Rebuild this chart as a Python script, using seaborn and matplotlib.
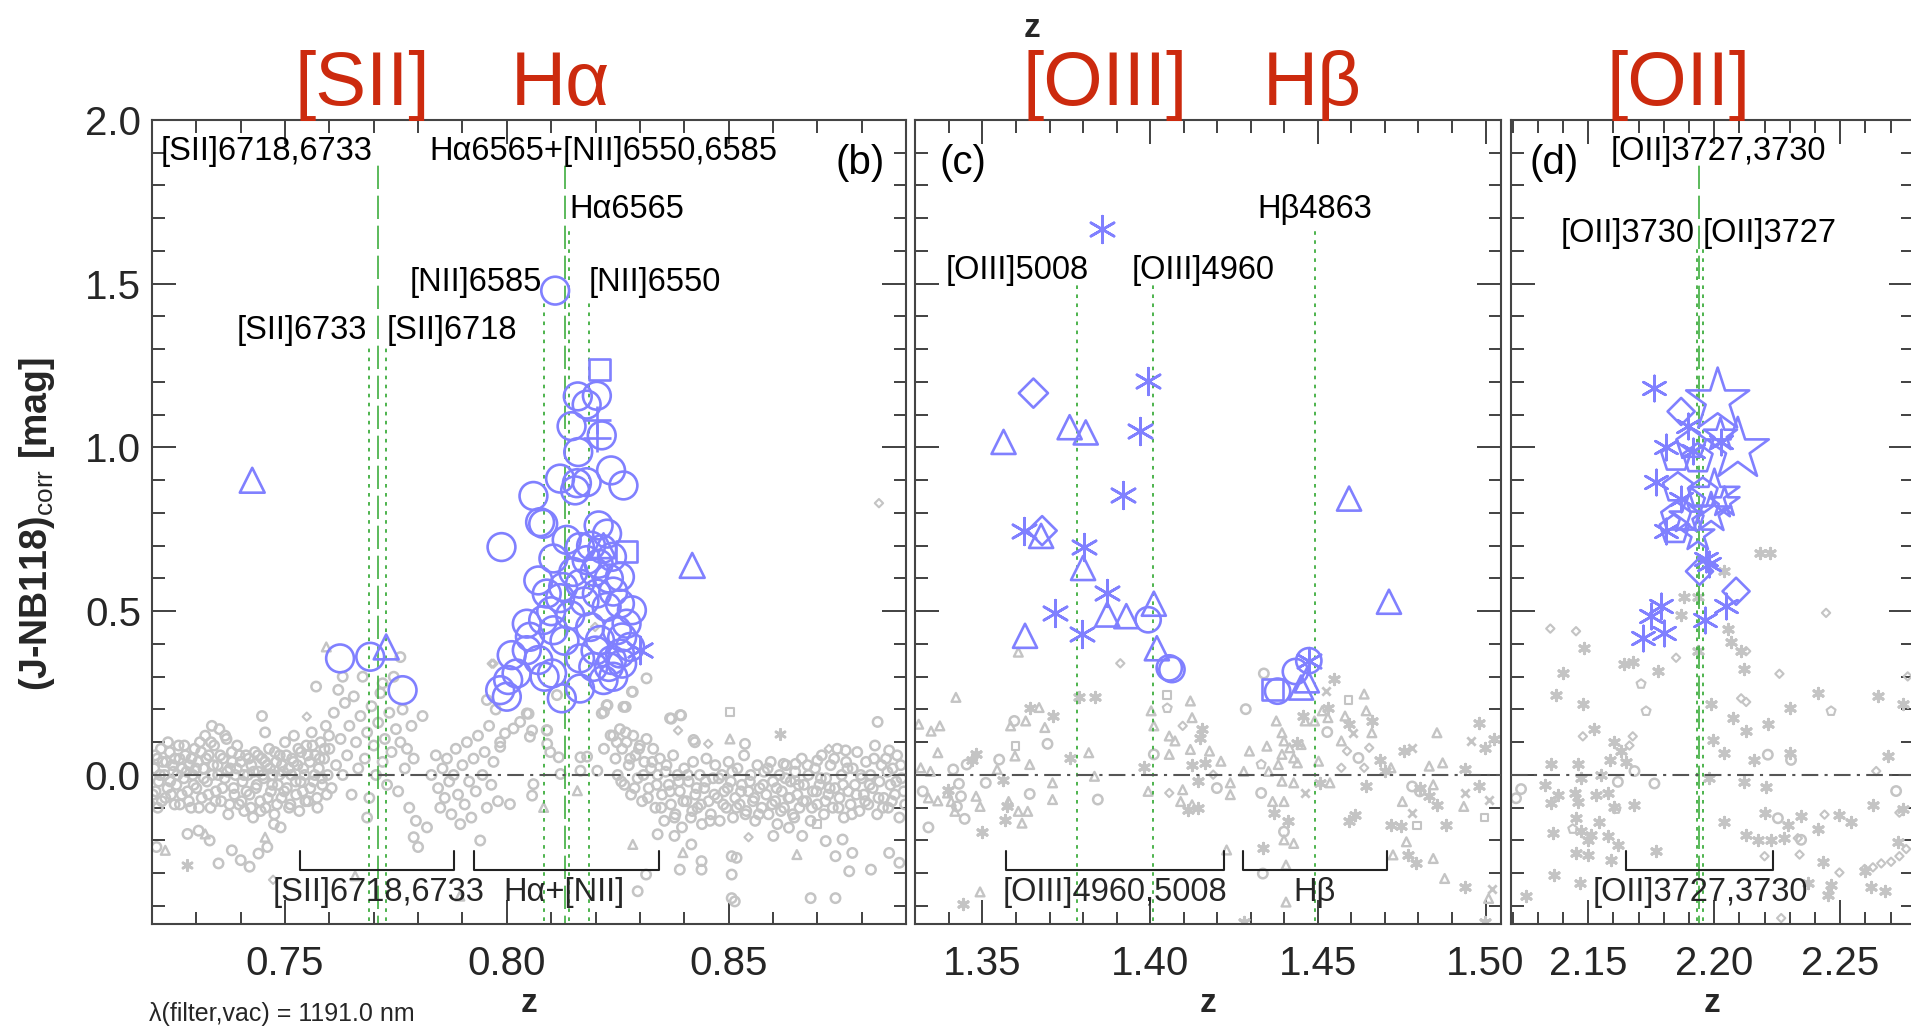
import numpy as np
import pandas as pd
import matplotlib
matplotlib.use('Agg')
import matplotlib.pyplot as plt
from matplotlib.ticker import MultipleLocator, FormatStrFormatter
import seaborn as sns

sns.set_theme(style='ticks')
plt.rcParams['font.family'] = ['Liberation Sans', 'DejaVu Sans']
plt.rcParams['mathtext.fontset'] = 'custom'
plt.rcParams['mathtext.rm'] = 'Liberation Sans'

#%% data: (z, colour excess) pairs
# panel (b) - gray comparison sample
b_gray_circ = [
(0.7205,0.02),(0.7208,-0.05),(0.7212,0.05),(0.7215,-0.02),(0.7220,0.08),(0.7222,-0.08),(0.7228,0.0),(0.7232,0.04),
(0.7235,-0.04),(0.7240,0.07),(0.7243,-0.06),(0.7248,0.01),(0.7252,0.05),(0.7255,-0.03),(0.7260,0.09),(0.7263,-0.09),
(0.7268,0.02),(0.7272,-0.01),(0.7275,0.06),(0.7280,-0.05),(0.7284,0.03),(0.7288,-0.1),(0.7292,0.0),(0.7296,0.08),
(0.7300,-0.04),(0.7304,0.04),(0.7308,0.1),(0.7312,-0.07),(0.7316,0.02),(0.7320,0.12),(0.7324,-0.02),(0.7328,0.06),
(0.7332,-0.1),(0.7336,0.0),(0.7340,0.09),(0.7344,-0.05),(0.7348,0.03),(0.7352,0.14),(0.7356,-0.08),(0.7360,0.05),
(0.7364,-0.01),(0.7368,0.11),(0.7372,-0.12),(0.7376,0.02),(0.7380,0.07),(0.7384,-0.04),(0.7388,0.0),(0.7392,0.09),
(0.7396,-0.09),(0.7400,0.04),(0.7404,-0.02),(0.7408,-0.11),(0.7412,0.06),(0.7416,0.0),(0.7420,-0.06),(0.7424,0.03),
(0.7428,-0.13),(0.7432,0.07),(0.7436,-0.03),(0.7440,0.01),(0.7444,-0.08),(0.7448,0.05),(0.7452,-0.01),(0.7456,-0.1),
(0.7460,0.03),(0.7464,0.08),(0.7468,-0.05),(0.7472,0.0),(0.7476,-0.12),(0.7480,0.04),(0.7484,-0.03),(0.7488,0.06),
(0.7492,-0.07),(0.7496,0.01),(0.7500,0.1),(0.7504,-0.04),(0.7508,0.02),(0.7512,-0.09),(0.7516,0.05),(0.7520,0.12),
(0.7524,-0.02),(0.7528,0.03),(0.7532,-0.11),(0.7536,0.07),(0.7540,-0.05),(0.7544,0.0),(0.7548,0.09),(0.7552,-0.08),
(0.7556,0.04),(0.7560,0.13),(0.7564,-0.02),(0.7568,0.06),(0.7572,-0.07),(0.7576,0.02),(0.7580,0.1),(0.7584,-0.03),
(0.7588,0.05),(0.7592,0.15),(0.7596,0.0),
(0.7202,-0.06),(0.7207,0.06),(0.7213,-0.1),(0.7218,0.0),(0.7224,0.04),(0.7230,-0.07),(0.7236,0.1),(0.7241,-0.02),
(0.7246,0.03),(0.7251,-0.09),(0.7257,0.0),(0.7262,0.05),(0.7267,-0.06),(0.7273,0.09),(0.7278,0.01),(0.7283,-0.08),
(0.7289,0.05),(0.7294,-0.03),(0.7299,0.02),(0.7306,-0.1),(0.7311,0.07),(0.7317,-0.01),(0.7322,0.05),(0.7327,-0.06),
(0.7333,0.1),(0.7338,0.03),(0.7343,-0.08),(0.7349,0.0),(0.7354,0.06),(0.7359,-0.04),(0.7365,0.12),(0.7370,0.01),
(0.7375,-0.09),(0.7381,0.04),(0.7386,-0.06),(0.7391,0.02),(0.7397,0.06),(0.7402,-0.08),(0.7407,0.0),(0.7413,-0.05),
(0.7418,0.05),(0.7423,-0.1),(0.7429,0.01),(0.7434,-0.04),(0.7439,0.06),(0.7445,-0.11),(0.7450,0.0),(0.7455,0.04),
(0.7461,-0.07),(0.7466,0.02),(0.7471,-0.03),(0.7477,0.07),(0.7482,-0.09),(0.7487,0.0),(0.7493,0.03),(0.7498,-0.05),
(0.7503,0.06),(0.7509,-0.1),(0.7514,0.0),(0.7519,0.04),(0.7525,-0.06),(0.7530,0.08),(0.7535,-0.02),(0.7541,0.02),
(0.7546,-0.08),(0.7551,0.06),(0.7557,-0.04),(0.7562,0.09),(0.7567,0.0),(0.7573,-0.1),(0.7578,0.05),(0.7583,-0.01),
(0.7589,0.08),(0.7594,-0.06),(0.7599,0.12),
(0.7600,0.08),(0.7605,-0.04),(0.7610,0.19),(0.7615,0.03),(0.7620,0.26),(0.7625,0.11),(0.7630,0.0),(0.7635,0.22),
(0.7640,0.06),(0.7645,0.15),(0.7650,-0.06),(0.7655,0.24),(0.7660,0.1),(0.7665,0.02),(0.7670,0.18),(0.7675,0.3),
(0.7680,0.05),(0.7685,0.13),(0.7690,-0.07),(0.7695,0.21),(0.7700,0.09),(0.7705,0.0),(0.7710,0.16),(0.7715,0.25),
(0.7720,0.04),(0.7725,0.11),(0.7730,-0.03),(0.7735,0.19),(0.7740,0.07),(0.7745,0.3),(0.7750,0.14),(0.7755,-0.05),
(0.7760,0.1),(0.7765,0.2),(0.7770,0.02),(0.7775,0.08),(0.7780,-0.1),(0.7785,0.15),(0.7790,0.05),(0.7795,-0.14),
(0.7210,-0.22),(0.7280,-0.18),(0.7305,-0.17),(0.7330,-0.2),(0.7350,-0.27),(0.7380,-0.23),(0.7400,-0.26),(0.7420,-0.28),
(0.7440,-0.24),(0.7460,-0.22),(0.7475,-0.15),(0.7490,-0.16),(0.7448,0.18),(0.7455,0.13),(0.7335,0.15),(0.7570,0.27),
(0.7630,0.3),(0.7685,-0.13),(0.7720,0.28),(0.7760,0.36),(0.7790,-0.19),(0.7800,-0.22),(0.7810,0.18),(0.7820,-0.16),
(0.7830,0.0),
(0.7840,0.06),(0.7845,-0.04),(0.7850,-0.1),(0.7855,0.02),(0.7860,-0.07),(0.7865,0.05),(0.7870,-0.02),(0.7875,-0.12),
(0.7880,0.0),(0.7885,0.08),(0.7890,-0.06),(0.7895,-0.15),(0.7900,0.03),(0.7905,-0.09),(0.7910,0.1),(0.7915,-0.02),
(0.7920,-0.13),(0.7925,0.05),(0.7930,-0.05),(0.7935,0.12),(0.7940,-0.2),(0.7945,0.0),(0.7950,0.07),(0.7955,-0.1),
(0.7960,0.15),(0.7965,-0.03),(0.7970,0.04),(0.7975,0.2),(0.7980,-0.08),(0.7985,0.1),
(0.8049,0.187),(0.8030,0.162),(0.8057,0.136),(0.8091,0.136),(0.8091,0.095),(0.8098,0.070),(0.8117,0.054),(0.8166,0.054),
(0.8181,0.056),(0.8166,0.013),(0.8121,0.003),(0.8060,-0.028),(0.8007,-0.089),(0.8057,-0.063),(0.8204,0.013),(0.8219,0.080),
(0.8234,0.121),(0.8268,0.208),(0.8284,0.254),(0.8219,0.192),(0.8227,0.213),(0.8371,0.172),(0.8393,0.182),(0.8424,0.100),
(0.8537,0.095),(0.8836,0.162),(0.8651,0.034),(0.8624,0.034),(0.8700,0.044),(0.8764,0.075),(0.8862,0.075),
(0.8340,-0.181),(0.8378,-0.186),(0.8416,-0.212),(0.8390,-0.289),(0.8439,-0.263),(0.8439,-0.289),(0.8507,-0.248),(0.8518,-0.253),
(0.8507,-0.304),(0.8507,-0.376),(0.8514,-0.386),(0.8314,-0.304),(0.8295,-0.355),(0.8685,-0.376),(0.8741,-0.376),(0.8719,-0.202),
(0.8757,-0.197),(0.8741,-0.248),(0.8779,-0.238),(0.8772,-0.294),(0.8821,-0.289),(0.8862,-0.238),(0.8885,-0.268),(0.8601,-0.186),
(0.8636,-0.161),(0.8666,-0.186),
(0.8315,0.295),(0.8282,0.254),(0.8263,0.208),(0.8225,0.213),(0.8214,0.188),(0.8368,0.173),(0.8391,0.183),(0.8045,0.188),
(0.8090,0.137),(0.8113,0.244),(0.8015,0.142),(0.7996,0.127),(0.7985,0.086),(0.7955,0.229),(0.8052,0.117),(0.8421,0.107),
(0.8240,0.12),(0.8245,0.05),(0.8250,0.0),(0.8255,0.14),(0.8260,0.08),(0.8265,-0.03),(0.8270,0.1),(0.8275,0.03),
(0.8280,-0.06),(0.8285,0.12),(0.8290,0.06),(0.8295,-0.01),(0.8300,0.09),(0.8305,-0.08),(0.8310,0.04),(0.8315,0.11),
(0.8320,-0.04),(0.8325,0.02),(0.8330,0.08),(0.8335,-0.1),(0.8340,0.0),(0.8345,0.05),(0.8350,-0.06),(0.8355,-0.14),
(0.8360,0.03),(0.8365,-0.03),(0.8370,-0.09),(0.8375,0.06),(0.8380,-0.12),(0.8385,0.0),(0.8390,-0.05),(0.8395,-0.16),
(0.8400,0.02),(0.8405,-0.08),(0.8410,-0.02),(0.8415,-0.13),(0.8420,0.04),(0.8425,-0.06),(0.8430,-0.1),(0.8435,0.0),
(0.8440,-0.15),(0.8445,-0.04),(0.8450,0.05),(0.8455,-0.08),(0.8460,-0.12),(0.8465,-0.01),(0.8470,0.03),(0.8475,-0.07),
(0.8480,-0.14),(0.8485,0.0),(0.8490,-0.05),(0.8495,-0.1),(0.8500,0.04),(0.8505,-0.02),(0.8510,-0.13),(0.8515,-0.07),
(0.8520,0.02),(0.8525,-0.09),(0.8530,-0.03),(0.8535,0.06),(0.8540,-0.11),(0.8545,-0.05),(0.8550,0.0),(0.8555,-0.08),
(0.8560,-0.14),(0.8565,0.03),(0.8570,-0.04),(0.8575,-0.1),(0.8580,0.01),(0.8585,-0.06),(0.8590,-0.12),(0.8595,0.04),
(0.8600,-0.02),(0.8605,-0.08),(0.8610,-0.15),(0.8615,0.0),(0.8620,-0.05),(0.8625,-0.1),(0.8630,0.03),(0.8635,-0.07),
(0.8640,-0.02),(0.8645,-0.12),(0.8650,0.01),(0.8655,-0.06),(0.8660,-0.1),(0.8665,0.05),(0.8670,-0.03),(0.8675,-0.08),
(0.8680,0.0),(0.8685,-0.14),(0.8690,-0.05),(0.8695,0.02),(0.8700,-0.09),(0.8705,-0.03),(0.8710,0.06),(0.8715,-0.12),
(0.8720,-0.01),(0.8725,-0.06),(0.8730,0.03),(0.8735,-0.1),(0.8740,-0.04),(0.8745,0.08),(0.8750,-0.07),(0.8755,0.0),
(0.8760,-0.13),(0.8765,0.04),(0.8770,-0.05),(0.8775,-0.09),(0.8780,0.02),(0.8785,-0.03),(0.8790,0.07),(0.8795,-0.11),
(0.8800,-0.01),(0.8805,-0.06),(0.8810,0.04),(0.8815,-0.09),(0.8820,0.0),(0.8825,-0.04),(0.8830,0.09),(0.8835,-0.12),
(0.8840,-0.02),(0.8845,0.03),(0.8850,-0.07),(0.8855,0.05),(0.8860,-0.1),(0.8865,-0.03),(0.8870,0.02),(0.8875,-0.06),
(0.8880,0.06),(0.8885,-0.13),(0.8890,-0.01),(0.8895,-0.05),
(0.8248,0.1),(0.8258,-0.02),(0.8268,0.13),(0.8278,0.05),(0.8288,-0.04),(0.8298,0.08),(0.8308,0.0),(0.8318,-0.07),
(0.8328,0.04),(0.8338,-0.03),(0.8348,-0.1),(0.8358,0.01),(0.8368,-0.05),(0.8378,-0.13),(0.8388,-0.02),(0.8398,-0.08),
(0.8408,0.0),(0.8418,-0.11),(0.8428,-0.04),(0.8438,-0.09),(0.8448,-0.02),(0.8458,-0.14),(0.8468,-0.06),(0.8478,-0.01),
(0.8488,-0.09),(0.8498,-0.04),(0.8508,0.01),(0.8518,-0.1),(0.8528,-0.05),(0.8538,-0.12),(0.8548,-0.02),(0.8558,-0.07),
(0.8568,-0.12),(0.8578,-0.03),(0.8588,0.02),(0.8598,-0.09),(0.8608,-0.04),(0.8618,-0.11),(0.8628,-0.01),(0.8638,-0.07),
(0.8648,-0.13),(0.8658,-0.03),(0.8668,-0.08),(0.8678,0.03),(0.8688,-0.1),(0.8698,-0.05),(0.8708,-0.01),(0.8718,-0.08),
(0.8728,-0.04),(0.8738,0.05),(0.8748,-0.1),(0.8758,-0.03),(0.8768,0.02),(0.8778,-0.12),(0.8788,-0.06),(0.8798,0.0),
(0.8808,-0.08),(0.8818,-0.03),(0.8828,0.05),(0.8838,-0.07),(0.8848,-0.1),(0.8858,0.01),(0.8868,-0.08),(0.8878,-0.02),
(0.8888,0.03),(0.8898,-0.09)]
b_gray_tri = [(0.7593,0.391),(0.7658,-0.308),(0.7894,-0.37),(0.7320,-0.18),(0.7230,-0.23),(0.7455,-0.19),
              (0.8503,0.11),(0.8397,-0.237),(0.8654,-0.243),(0.8284,-0.212),(0.8083,-0.099),(0.8159,-0.048)]
b_gray_dia = [(0.7197,-0.086),(0.7549,0.178),(0.7966,0.34),(0.7473,-0.32),(0.8839,0.83),(0.8386,0.136),
              (0.8454,0.095),(0.8726,0.08),(0.8545,-0.19),(0.8199,0.452),(0.7970,0.340)]
b_gray_sq = [(0.8503,0.192),(0.8650,-0.017),(0.8699,-0.15)]
b_gray_ast = [(0.7280,-0.275),(0.8617,0.126)]

# panel (b) - NB118 emitters
b_blue_circ = [
(0.8109,1.479),(0.7624,0.356),(0.7692,0.361),(0.7765,0.259),
(0.8160,1.156),(0.8203,1.158),(0.8180,1.131),(0.8146,1.065),(0.8214,1.037),(0.8161,0.986),
(0.8235,0.930),(0.8263,0.884),(0.8120,0.905),(0.8158,0.891),(0.8180,0.894),(0.8154,0.869),
(0.8060,0.852),(0.8075,0.772),(0.8082,0.767),(0.7988,0.696),(0.8135,0.718),(0.8207,0.762),
(0.8226,0.737),(0.8105,0.661),(0.8165,0.696),(0.8180,0.656),(0.8207,0.645),(0.8237,0.666),
(0.8255,0.605),(0.8071,0.594),(0.8090,0.554),(0.8127,0.574),(0.8165,0.584),(0.8203,0.554),
(0.8225,0.513),(0.8255,0.523),(0.8282,0.503),(0.8143,0.488),(0.8045,0.462),(0.8082,0.473),
(0.8105,0.442),(0.8052,0.422),(0.8188,0.452),(0.8210,0.412),(0.8248,0.442),(0.8270,0.462),
(0.8011,0.366),(0.8045,0.381),(0.8071,0.351),(0.8102,0.310),(0.8165,0.356),(0.8195,0.330),
(0.8237,0.351),(0.8255,0.371),(0.8278,0.391),(0.8003,0.290),(0.8022,0.310),(0.7985,0.259),
(0.8000,0.239),(0.8124,0.234),(0.8165,0.264),(0.8218,0.290),(0.8240,0.300),
(0.8190,0.700),(0.8215,0.690),(0.8198,0.620),(0.8230,0.600),(0.8175,0.530),(0.8240,0.560),
(0.8150,0.620),(0.8120,0.540),(0.8260,0.420),(0.8200,0.380),(0.8230,0.330),(0.8260,0.340),
(0.8100,0.500),(0.8130,0.410),(0.8085,0.300)]
b_blue_tri = [(0.7426,0.900),(0.7728,0.391),(0.8418,0.640),(0.8218,0.700)]
b_blue_sq = [(0.8210,1.237),(0.8270,0.681)]
b_blue_plus = [(0.8203,1.085),(0.8203,1.030)]
b_blue_ast = [(0.8300,0.381)]

# panel (c) - gray
c_gray_tri = [
(1.3607,0.375),(1.3421,0.237),(1.3669,0.206),(1.3629,0.165),(1.3584,0.150),(1.3686,0.145),(1.3310,0.155),(1.3373,0.150),
(1.3347,0.134),(1.3367,0.068),(1.3597,0.058),(1.3316,0.022),(1.3345,0.011),(1.3367,-0.079),(1.3339,-0.070),(1.3407,-0.081),
(1.3396,-0.055),(1.3481,-0.065),(1.3493,-0.096),(1.3418,-0.111),(1.3578,-0.081),(1.3607,-0.111),(1.3618,-0.147),(1.3635,-0.111),
(1.3709,-0.024),(1.3709,-0.075),(1.3544,0.017),(1.3641,0.032),(1.3817,0.068),(1.3834,-0.004),(1.4003,0.196),(1.4011,0.150),
(1.4120,0.226),(1.4125,0.175),(1.4057,0.119),(1.4074,0.104),(1.4120,0.078),(1.4057,0.063),(1.4177,0.073),(1.4211,0.042),
(1.3994,-0.050),(1.4097,-0.045),(1.4091,-0.081),(1.4125,-0.091),(1.4239,-0.024),(1.4239,-0.060),(1.4228,-0.229),(1.4296,0.073),
(1.4348,0.088),(1.4376,0.165),(1.4393,0.129),(1.4399,0.104),(1.4416,0.083),(1.4450,0.093),(1.4393,0.063),(1.4428,0.052),
(1.4382,0.032),(1.4439,0.037),(1.4462,0.165),(1.4490,0.165),(1.4513,0.196),(1.4530,0.175),(1.4570,0.104),(1.4581,0.180),
(1.4638,0.247),(1.4644,0.196),(1.4661,0.129),(1.4279,0.011),(1.4353,0.011),(1.4393,-0.019),(1.4428,-0.024),(1.4365,-0.081),
(1.4399,-0.081),(1.4399,-0.198),(1.4428,-0.209),(1.4405,-0.275),(1.4502,0.042),(1.4536,-0.024),(1.4718,0.022),(1.4724,-0.244),
(1.4752,-0.081),(1.4764,-0.204),(1.4844,-0.255),(1.4855,0.129),(1.4878,-0.316),(1.4832,0.027),(1.4872,0.037),(1.4844,-0.030),
(1.4935,-0.096),(1.3493,-0.357),(1.4405,-0.388),(1.5009,-0.377)]
c_gray_ast = [
(1.3787,0.237),(1.3837,0.237),(1.3641,0.206),(1.3711,0.180),(1.3481,0.063),(1.3470,0.047),(1.3561,-0.014),(1.3567,-0.137),
(1.3498,-0.173),(1.3572,-0.096),(1.3396,-0.045),(1.3761,0.052),(1.4154,0.139),(1.4148,0.114),(1.4125,0.032),(1.4165,0.037),
(1.4142,-0.019),(1.4114,-0.106),(1.4142,-0.101),(1.3983,0.025),(1.4547,0.293),(1.4530,0.206),(1.4456,0.180),(1.4439,0.099),
(1.4593,0.155),(1.4661,0.165),(1.4684,0.047),(1.4507,-0.024),(1.4644,-0.035),(1.4758,0.073),(1.4832,-0.065),(1.4718,-0.152),
(1.4747,-0.157),(1.4769,-0.244),(1.4792,-0.270),(1.4883,-0.152),(1.4593,-0.142),(1.4610,-0.122),(1.4370,-0.116),(1.4410,-0.142),
(1.4336,-0.224),(1.4980,0.160),(1.4997,0.083),(1.5026,0.109),(1.4940,0.017),(1.4980,-0.035),(1.4940,-0.342),(1.4997,-0.449),
(1.3441,-0.393),(1.4279,-0.449),(1.4701,0.011),(1.4804,-0.040),(1.4855,-0.091)]
c_gray_x = [(1.4604,0.129),(1.4781,0.083),(1.4781,-0.116),(1.4940,-0.055),(1.5009,-0.075),(1.5020,-0.347),(1.4462,-0.055),
            (1.4524,0.257),(1.4958,0.104)]
c_gray_circ = [
(1.3595,0.165),(1.3694,0.095),(1.3550,0.047),(1.3453,0.032),(1.3413,0.017),(1.3430,-0.027),(1.3322,-0.050),(1.3436,-0.065),
(1.3447,-0.134),(1.3339,-0.160),(1.3424,-0.096),(1.3641,-0.058),(1.3844,-0.075),(1.3510,-0.024),(1.4011,0.063),(1.4199,-0.040),
(1.4339,0.310),(1.4285,0.201),(1.4528,0.131),(1.4331,-0.055),(1.4399,-0.173),(1.4336,-0.301),(1.4621,0.052),(1.4781,-0.035),
(1.4804,-0.050)]
c_gray_sq = [(1.3599,0.088),(1.4051,0.245),(1.4591,0.229),(1.4796,-0.154),(1.4997,-0.130)]
c_gray_dia = [(1.3911,0.341),(1.4057,-0.055),(1.4188,0.001),(1.4097,0.150),(1.4587,0.073),(1.4570,0.022),(1.4653,0.083),(1.4638,0.022)]
c_gray_pent = [(1.4051,0.204),(1.4331,0.032)]

# panel (c) - emitters
c_blue_ast = [(1.3857,1.667),(1.3994,1.204),(1.3971,1.051),(1.3920,0.855),(1.3624,0.746),(1.3804,0.697),(1.3871,0.556),
              (1.3715,0.496),(1.3797,0.431),(1.4473,0.349)]
c_blue_tri = [(1.3760,1.062),(1.3808,1.046),(1.3563,1.017),(1.4593,0.844),(1.3675,0.730),(1.3800,0.632),(1.4712,0.529),
              (1.3872,0.490),(1.3929,0.485),(1.4011,0.523),(1.3627,0.425),(1.4020,0.387),(1.4467,0.289),(1.4450,0.267)]
c_blue_dia = [(1.3652,1.166),(1.3678,0.746)]
c_blue_circ = [(1.3994,0.474),(1.4057,0.327),(1.4065,0.322),(1.4473,0.349),(1.4433,0.316),(1.4380,0.256)]
c_blue_sq = [(1.4365,0.262)]

# panel (d) - gray
d_gray_ast = [
(2.2180,0.678),(2.2220,0.678),(2.2041,0.622),(2.1882,0.545),(2.1935,0.545),(2.1869,0.489),(2.2054,0.445),(2.2067,0.406),
(2.1935,0.378),(2.1776,0.317),(2.1644,0.340),(2.1677,0.345),(2.1399,0.312),(2.1373,0.245),(2.1479,0.218),(2.1485,0.389),
(2.1988,0.218),(2.2074,0.173),(2.2213,0.157),(2.2127,0.134),(2.1995,0.107),(2.2041,0.068),(2.2160,0.046),(2.2299,0.068),
(2.2299,0.206),(2.2411,0.251),(2.2649,0.240),(2.2749,0.218),(2.2689,0.057),(2.2120,0.323),(2.2107,0.378),(2.1525,0.140),
(2.1604,0.101),(2.1631,0.073),(2.1585,0.046),(2.1651,0.040),(2.1353,0.035),(2.1459,0.035),(2.1552,0.001),(2.1472,-0.010),
(2.1327,-0.032),(2.1380,-0.060),(2.1446,-0.054),(2.1532,-0.060),(2.1578,-0.054),(2.1353,-0.087),(2.1459,-0.082),(2.1684,-0.093),
(2.1604,-0.098),(2.1452,-0.132),(2.1545,-0.143),(2.1360,-0.176),(2.1472,-0.170),(2.1512,-0.182),(2.1499,-0.198),(2.1578,-0.187),
(2.1618,-0.215),(2.1452,-0.237),(2.1499,-0.243),(2.1591,-0.259),(2.1770,-0.232),(2.1366,-0.304),(2.1254,-0.370),(2.1466,-0.331),
(2.2120,-0.021),(2.2206,-0.038),(2.2041,-0.143),(2.2127,-0.182),(2.2173,-0.198),(2.2226,-0.198),(2.2279,-0.193),(2.2292,-0.154),
(2.2345,-0.126),(2.2411,-0.165),(2.2431,-0.265),(2.2464,-0.337),(2.2497,-0.121),(2.2544,-0.143),(2.2630,-0.093),(2.2597,-0.292),
(2.2623,-0.342),(2.2729,-0.204),(2.2749,-0.104),(2.1981,-0.010),(2.2200,-0.115),(2.2372,-0.331),(2.2451,-0.365),(2.2676,-0.354)]
d_gray_dia = [
(2.1350,0.447),(2.1452,0.439),(2.1849,0.358),(2.2127,0.378),(2.2259,0.309),(2.2444,0.495),(2.2768,0.301),(2.2107,0.234),
(2.2127,0.223),(2.1677,0.118),(2.1479,0.118),(2.2643,0.012),(2.2735,-0.115),(2.2438,-0.121),(2.2332,-0.193),(2.2339,-0.243),
(2.2497,-0.298),(2.2597,-0.287),(2.2630,-0.282),(2.2663,-0.270),(2.2702,-0.265),(2.2735,-0.248),(2.2762,-0.226),(2.2200,-0.248),
(2.2266,-0.437),(2.1664,0.090)]
d_gray_pent = [(2.1710,0.278),(2.1730,0.195),(2.2464,0.195),(2.1439,-0.165),(2.1611,-0.104)]
d_gray_circ = [(2.2213,0.062),(2.2305,0.046),(2.1763,-0.026),(2.1684,0.012),(2.1618,-0.021),(2.1214,-0.071),(2.1234,-0.043),
               (2.2722,-0.049),(2.2253,-0.132),(2.2345,-0.198)]

# panel (d) - emitters
d_blue_ast = [(2.1763,1.182),(2.1896,1.066),(2.1809,1.000),(2.1915,0.988),(2.2028,1.016),(2.1770,0.894),(2.1869,0.844),
              (2.1809,0.744),(2.1968,0.661),(2.1981,0.644),(2.2048,0.517),(2.1962,0.473),(2.1790,0.517),(2.1750,0.484),
              (2.1803,0.434),(2.1717,0.417)]
d_blue_dia = [(2.1869,1.110),(2.1942,0.622),(2.2087,0.561)]
d_blue_pent = [(2.1849,0.971),(2.1909,1.010),(2.1856,0.877),(2.1955,0.861),(2.1843,0.750),(2.1849,0.788),(2.1935,0.966)]
d_blue_star = [(2.2014,1.143),(2.2094,0.994),(2.2025,1.038),(2.2001,0.855),(2.1988,0.800),(2.1935,0.733),(2.1889,0.788),(2.2041,0.833)]
d_star_size = [2275,2200,625,1434,918,625,625,517]

# line positions (z) and where the markers start (y)
b_lines_single = [(0.7689,1.31),(0.7728,1.31),(0.8083,1.45),(0.8141,1.67),(0.8185,1.45)]
b_lines_blend = [(0.7710,1.87),(0.8132,1.87)]
c_lines_single = [(1.3781,1.50),(1.4010,1.50),(1.4492,1.67)]
c_lines_blend = []
d_lines_single = [(2.1931,1.61),(2.1955,1.61)]
d_lines_blend = [(2.1941,1.87)]

b_text = [('[SII]6718,6733',0.7220,1.905,'left'),('H\u03b16565+[NII]6550,6585',0.7825,1.905,'left'),
          ('H\u03b16565',0.8141,1.726,'left'),('[NII]6585',0.8079,1.503,'right'),('[NII]6550',0.8185,1.503,'left'),
          ('[SII]6733',0.7685,1.357,'right'),('[SII]6718',0.7730,1.357,'left'),('(b)',0.8853,1.87,'right')]
c_text = [('[OIII]5008',1.3389,1.540,'left'),('[OIII]4960',1.3946,1.540,'left'),('H\u03b24863',1.4492,1.726,'center'),
          ('(c)',1.3373,1.87,'left')]
d_text = [('[OII]3727,3730',2.1591,1.905,'left'),('[OII]3730',2.1921,1.652,'right'),('[OII]3727',2.1956,1.652,'left'),
          ('(d)',2.1266,1.87,'left')]

b_brackets = [(0.7534,0.7881,'[SII]6718,6733',0.7710),(0.7926,0.8343,'H\u03b1+[NII]',0.8128)]
c_brackets = [(1.3571,1.4220,'[OIII]4960,5008',1.3895),(1.4277,1.4706,'H\u03b2',1.4490)]
d_brackets = [(2.1651,2.2233,'[OII]3727,3730',2.1944)]

xlims = [(0.72,0.89),(1.3299,1.5046),(2.1194,2.2789)]
red_labels = [('[SII]',362),('H\u03b1',560),('[OIII]',1105),('H\u03b2',1312),('[OII]',1679)]

#%% styles
GRAY = '#c4c4c4'
BLUE = '#8080ff'
GREEN = '#3fae3f'
RED = '#cc2a0e'
W, H = 1911, 1027

def pts(ax, data, marker, color, s, lw, line_art=False, z=3):
    df = pd.DataFrame(data, columns=['z', 'y'])
    if len(df) == 0:
        return
    if line_art:
        sns.scatterplot(data=df, x='z', y='y', marker=marker, s=s, color=color,
                        linewidth=lw, legend=False, ax=ax, zorder=z)
    else:
        sns.scatterplot(data=df, x='z', y='y', marker=marker, s=s, facecolor='none',
                        edgecolor=color, linewidth=lw, legend=False, ax=ax, zorder=z)

AST = (6, 2, 0)

fig = plt.figure(figsize=(W/100, H/100), dpi=100)
lefts = [152, 915, 1511]
widths = [754, 586, 402]
axes = [fig.add_axes([l/W, 103/H, w/W, 804/H]) for l, w in zip(lefts, widths)]

panels = [
    dict(lines_s=b_lines_single, lines_b=b_lines_blend, text=b_text, br=b_brackets),
    dict(lines_s=c_lines_single, lines_b=c_lines_blend, text=c_text, br=c_brackets),
    dict(lines_s=d_lines_single, lines_b=d_lines_blend, text=d_text, br=d_brackets),
]

# gray comparison points
pts(axes[0], b_gray_circ, 'o', GRAY, 46, 1.8, z=2)
pts(axes[0], b_gray_tri, '^', GRAY, 40, 1.7, z=2)
pts(axes[0], b_gray_dia, 'D', GRAY, 18, 1.5, z=2)
pts(axes[0], b_gray_sq, 's', GRAY, 30, 1.5, z=2)
pts(axes[0], b_gray_ast, AST, GRAY, 55, 2.0, line_art=True, z=2)

pts(axes[1], c_gray_tri, '^', GRAY, 40, 1.7, z=2)
pts(axes[1], c_gray_ast, AST, GRAY, 55, 2.2, line_art=True, z=2)
pts(axes[1], c_gray_x, 'x', GRAY, 36, 2.0, line_art=True, z=2)
pts(axes[1], c_gray_circ, 'o', GRAY, 46, 1.8, z=2)
pts(axes[1], c_gray_sq, 's', GRAY, 30, 1.5, z=2)
pts(axes[1], c_gray_dia, 'D', GRAY, 18, 1.5, z=2)
pts(axes[1], c_gray_pent, 'p', GRAY, 46, 1.5, z=2)

pts(axes[2], d_gray_ast, AST, GRAY, 55, 2.2, line_art=True, z=2)
pts(axes[2], d_gray_dia, 'D', GRAY, 18, 1.5, z=2)
pts(axes[2], d_gray_pent, 'p', GRAY, 46, 1.5, z=2)
pts(axes[2], d_gray_circ, 'o', GRAY, 46, 1.8, z=2)

# emitters
pts(axes[0], b_blue_circ, 'o', BLUE, 400, 1.9)
pts(axes[0], b_blue_tri, '^', BLUE, 320, 1.9)
pts(axes[0], b_blue_sq, 's', BLUE, 230, 1.9)
pts(axes[0], b_blue_plus, '+', BLUE, 380, 1.9, line_art=True)
pts(axes[0], b_blue_ast, AST, BLUE, 380, 1.9, line_art=True)

pts(axes[1], c_blue_ast, AST, BLUE, 370, 1.9, line_art=True)
pts(axes[1], c_blue_tri, '^', BLUE, 300, 1.9)
pts(axes[1], c_blue_dia, 'D', BLUE, 220, 1.9)
pts(axes[1], c_blue_circ, 'o', BLUE, 330, 1.9)
pts(axes[1], c_blue_sq, 's', BLUE, 230, 1.9)

pts(axes[2], d_blue_ast, AST, BLUE, 330, 1.9, line_art=True)
pts(axes[2], d_blue_dia, 'D', BLUE, 190, 1.9)
pts(axes[2], d_blue_pent, 'p', BLUE, 500, 1.9)
dstar = pd.DataFrame(d_blue_star, columns=['z', 'y'])
dstar['s'] = d_star_size
sns.scatterplot(data=dstar, x='z', y='y', size='s', sizes=(min(d_star_size), max(d_star_size)),
                marker='*', facecolor='none', edgecolor=BLUE, linewidth=1.9, legend=False,
                ax=axes[2], zorder=3)

for ax, p, xl in zip(axes, panels, xlims):
    ax.axhline(0, color='#555555', lw=1.5, ls=(0, (8, 3, 1.5, 3)), zorder=2.6)
    for zz, yt in p['lines_s']:
        ax.plot([zz, zz], [-0.5, yt], color=GREEN, lw=1.3, ls=(0, (2, 3)), zorder=2.5)
    for zz, yt in p['lines_b']:
        ax.plot([zz, zz], [-0.5, yt], color=GREEN, lw=1.2, ls=(0, (14, 4)), zorder=2.5)
    for txt, zz, yy, ha in p['text']:
        fs = 29 if txt.startswith('(') else 23.5
        ax.text(zz, yy, txt, ha=ha, va='center', fontsize=fs, color='black', zorder=5)
    for z0, z1, txt, zc in p['br']:
        ax.plot([z0, z0, z1, z1], [-0.232, -0.290, -0.290, -0.232], color='#222222', lw=1.5, zorder=4)
        ax.text(zc, -0.358, txt, ha='center', va='center', fontsize=23.5, zorder=5)

    ax.set_xlim(*xl)
    ax.set_ylim(-0.455, 2.0)
    ax.xaxis.set_major_locator(MultipleLocator(0.05))
    ax.xaxis.set_minor_locator(MultipleLocator(0.01))
    ax.yaxis.set_major_locator(MultipleLocator(0.5))
    ax.yaxis.set_minor_locator(MultipleLocator(0.1))
    ax.xaxis.set_major_formatter(FormatStrFormatter('%.2f'))
    ax.yaxis.set_major_formatter(FormatStrFormatter('%.1f'))
    ax.tick_params(which='both', direction='in', top=True, right=True, color='#333333', width=1.3)
    ax.tick_params(which='major', length=17)
    ax.tick_params(which='minor', length=9)
    ax.tick_params(axis='x', labelsize=29, pad=15)
    ax.tick_params(axis='y', labelsize=29, pad=8)
    for sp in ax.spines.values():
        sp.set_color('#444444')
        sp.set_linewidth(1.5)
    ax.set_xlabel('z', fontsize=24, fontweight='bold', labelpad=4)
    ax.set_ylabel('')
    ax.set_facecolor('white')

axes[1].tick_params(axis='y', labelleft=False)
axes[2].tick_params(axis='y', labelleft=False)

fig.text(37/W, 1-524/H, r'(J-NB118)$_{\mathrm{corr}}$ [mag]', rotation=90, ha='center', va='center',
         fontsize=27, fontweight='bold')
for txt, xc in red_labels:
    fig.text(xc/W, 1-105/H, txt, color=RED, fontsize=55, ha='center', va='baseline')
fig.text(1032/W, 1-37/H, 'z', fontsize=24, fontweight='bold', ha='center', va='baseline')
fig.text(149/W, 1-1014/H, '\u03bb(filter,vac) = 1191.0 nm', fontsize=18, ha='left', va='center')

fig.savefig('out.png', dpi=100, facecolor='white')
